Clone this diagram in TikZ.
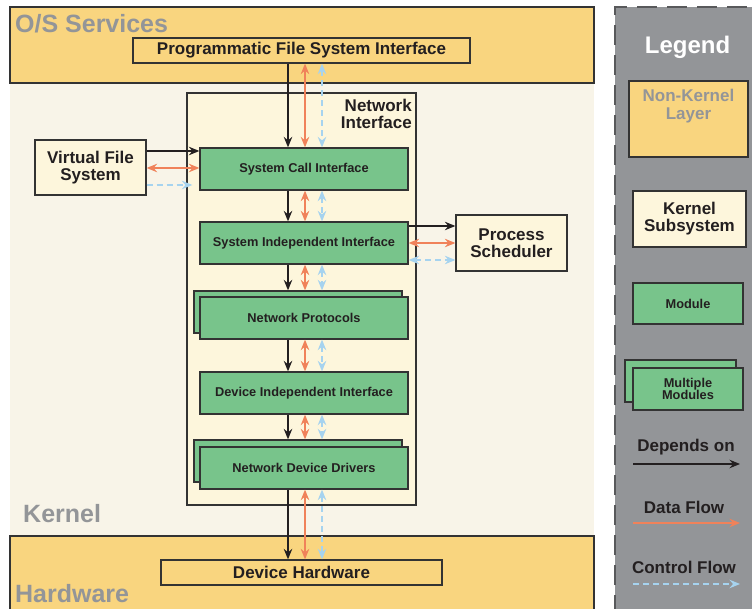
\documentclass[tikz,border=0pt]{standalone}
\usepackage{fontspec}
\setmainfont{Liberation Sans}
\usetikzlibrary{arrows.meta,calc}
\definecolor{orangeL}{HTML}{F9D57F}
\definecolor{creamK}{HTML}{F8F4E8}
\definecolor{creamN}{HTML}{FDF6DC}
\definecolor{greenM}{HTML}{78C48B}
\definecolor{bord}{HTML}{333333}
\definecolor{grayT}{HTML}{939598}
\definecolor{grayL}{HTML}{939598}
\definecolor{grayD}{HTML}{58595B}
\definecolor{darkT}{HTML}{231F20}
\definecolor{oarr}{HTML}{F0825A}
\definecolor{barr}{HTML}{A6D3EF}
\newcommand\fsz[1]{\fontsize{#1}{#1}\selectfont\bfseries}
\begin{document}
\begin{tikzpicture}[x=1pt,y=-1pt,
  box/.style={draw=bord,line width=1.3pt,inner sep=0pt,align=center,text=darkT},
  layer/.style={box,fill=orangeL},
  ksub/.style={box,fill=creamN,font=\fsz{17}},
  modbox/.style={box,fill=greenM,minimum width=208pt,minimum height=42pt,font=\fsz{12.8}},
  bigtxt/.style={anchor=base west,inner sep=0pt,text=grayT,font=\fsz{25}},
  dep/.style={draw=darkT,line width=1.3pt,-{Stealth[length=10.5pt,width=8.5pt,inset=3.5pt]}},
  dflow/.style={draw=oarr,line width=1.3pt,{Stealth[length=10.5pt,width=8.5pt,inset=3.5pt]}-{Stealth[length=10.5pt,width=8.5pt,inset=3.5pt]}},
  dflowone/.style={draw=oarr,line width=1.3pt,-{Stealth[length=10.5pt,width=8.5pt,inset=3.5pt]}},
  cflow/.style={draw=barr,line width=1.3pt,dash pattern=on 6pt off 4pt,{Stealth[length=10.5pt,width=8.5pt,inset=3.5pt]}-{Stealth[length=10.5pt,width=8.5pt,inset=3.5pt]}},
  cflowone/.style={draw=barr,line width=1.3pt,dash pattern=on 6pt off 4pt,-{Stealth[length=10.5pt,width=8.5pt,inset=3.5pt]}},
  legtxt/.style={inner sep=0pt,text=darkT,font=\fsz{17}}
]
\useasboundingbox (0,0) rectangle (752,609);
\fill[white] (0,0) rectangle (752,609);

% layers
\node[fill=creamK,inner sep=0pt,minimum width=584pt,minimum height=453pt] (kern) at (302,309.5) {};
\node[layer,minimum width=584pt,minimum height=76pt] (osband) at (302,45) {};
\node[layer,minimum width=584pt,minimum height=79pt] (hwband) at (302,575.5) {};
\node[bigtxt] (ostxt) at (15,33) {O/S Services};
\node[bigtxt] (ktxt) at (23,522) {Kernel};
\node[bigtxt] (hwtxt) at (15,602) {Hardware};

% network interface subsystem
\node[box,fill=creamN,minimum width=229pt,minimum height=412pt] (ni) at (301.5,299) {};
\node[anchor=north east,inner sep=0pt,align=right,text=darkT,font=\fsz{17}] (nitxt) at (412,99) {Network\\Interface};

\node[layer,minimum width=337pt,minimum height=25pt,font=\fsz{17}] (pfsi) at (301.5,50.5) {Programmatic File System Interface};
\node[ksub,minimum width=111pt,minimum height=55pt] (vfs) at (90.5,167.5) {Virtual File\\System};
\node[ksub,minimum width=111pt,minimum height=56pt] (ps) at (511.5,243) {Process\\Scheduler};
\node[layer,minimum width=281pt,minimum height=25pt,font=\fsz{17}] (dh) at (301.5,572.5) {Device Hardware};

\node[modbox] (sci) at (304,169) {System Call Interface};
\node[modbox] (sii) at (304,243) {System Independent Interface};
\node[modbox] (npb) at (298,312) {};
\node[modbox] (np) at (304,318) {Network Protocols};
\node[modbox] (dii) at (304,393) {Device Independent Interface};
\node[modbox] (nddb) at (298,461) {};
\node[modbox] (ndd) at (304,468) {Network Device Drivers};

% column / row references
\coordinate (bx) at (288,0);
\coordinate (ox) at (305,0);
\coordinate (cx) at (322,0);
\coordinate (r1) at (0,151);
\coordinate (r2) at (0,168);
\coordinate (r3) at (0,185);
\coordinate (s1) at (0,226);
\coordinate (s2) at (0,243);
\coordinate (s3) at (0,260);

% vertical connectors
\foreach \a/\b in {pfsi/sci,sci/sii,sii/npb,np/dii,dii/nddb,ndd/dh}{
  \draw[dep] (\a.south -| bx) -- (\b.north -| bx);
  \draw[dflow] (\a.south -| ox) -- (\b.north -| ox);
  \draw[cflow] (\a.south -| cx) -- (\b.north -| cx);
}

% VFS -> SCI
\draw[dep] (vfs.east |- r1) -- (sci.west |- r1);
\draw[dflow] (vfs.east |- r2) -- (sci.west |- r2);
\draw[cflowone] (vfs.east |- r3) -- ($(sci.west |- r3)+(-7,0)$);

% SII -> PS
\draw[dep] (sii.east |- s1) -- (ps.west |- s1);
\draw[dflow] (sii.east |- s2) -- (ps.west |- s2);
\draw[cflow] (sii.east |- s3) -- (ps.west |- s3);

% legend
\fill[grayL] (615,7) rectangle (760,615);
\draw[grayD,line width=1.3pt,dash pattern=on 20pt off 10pt] (615,615) -- (615,7) -- (760,7);
\node[inner sep=0pt,text=white,font=\fsz{24}] (legt) at (687.5,47) {Legend};
\node[layer,minimum width=119pt,minimum height=76pt] (lnk) at (688.5,119) {};
\node[inner sep=0pt,align=center,text=grayT,font=\fontsize{17}{18}\selectfont\bfseries] (lnkt) at (688.5,106) {Non-Kernel\\Layer};
\node[ksub,minimum width=113pt,minimum height=56pt] (lks) at (689.5,219) {Kernel\\Subsystem};
\node[modbox,minimum width=110pt,minimum height=41pt] (lmod) at (688,303.5) {Module};
\node[modbox,minimum width=111pt,minimum height=42pt] (lmmb) at (680.5,381) {};
\node[modbox,minimum width=110pt,minimum height=42pt,font=\fontsize{12.8}{12.5}\selectfont\bfseries] (lmm) at (688,389) {Multiple\\Modules};
\node[legtxt] (ldep) at (686,447) {Depends on};
\node[legtxt] (ldat) at (684,507) {Data Flow};
\node[legtxt] (lctl) at (684,567) {Control Flow};
\coordinate (la1) at (633,464);
\coordinate (lb1) at (740,464);
\coordinate (la2) at (633,523);
\coordinate (lb2) at (740,523);
\coordinate (la3) at (633,584);
\coordinate (lb3) at (740,584);
\draw[dep] (la1) -- (lb1);
\draw[dflowone] (la2) -- (lb2);
\draw[cflowone] (la3) -- (lb3);
\end{tikzpicture}
\end{document}
